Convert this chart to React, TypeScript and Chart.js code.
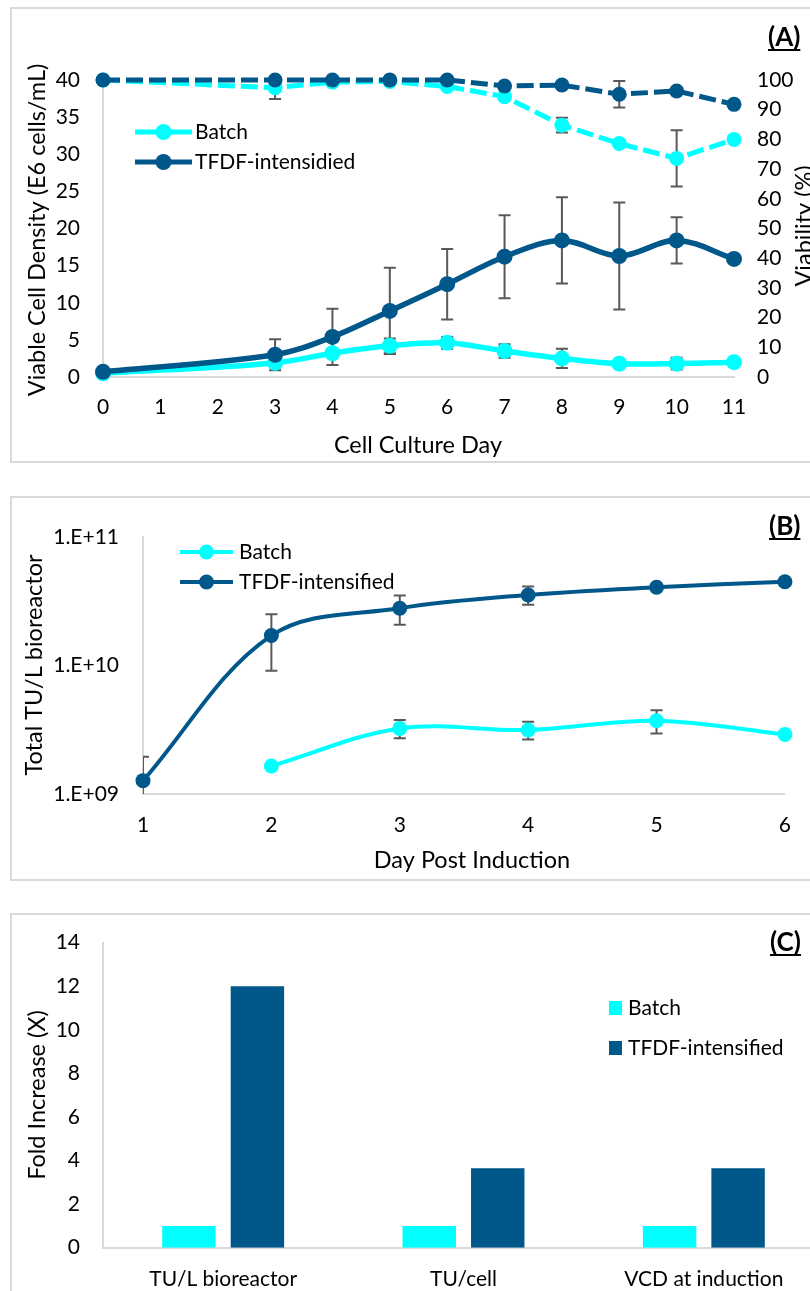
import React, { useEffect, useRef } from 'react';
import { Chart, registerables } from 'chart.js';

Chart.register(...registerables);

const CYAN = '#00FFFF';
const NAVY = '#00578A';
const AXIS = '#D9D9D9';
const ERR = '#595959';
const FONT = 'Lato, "Open Sans", sans-serif';
const TXT = '#000000';

// ---------- Panel A: cell culture ----------
const cultureDays = [0, 3, 4, 5, 6, 7, 8, 9, 10, 11];
const vcdBatch = [0.5, 1.9, 3.2, 4.2, 4.6, 3.5, 2.5, 1.8, 1.8, 2.0];
const vcdBatchErr = [0, 0.6, 0.5, 1.0, 0.8, 0.9, 1.3, 0, 0.8, 0];
const vcdTfdf = [0.7, 3.0, 5.4, 8.9, 12.5, 16.2, 18.4, 16.3, 18.4, 15.9];
const vcdTfdfErr = [0, 2.1, 3.8, 5.8, 4.75, 5.6, 5.8, 7.2, 3.1, 0];
const viaBatch = [100, 97.4, 99.3, 99.5, 97.8, 94.4, 84.8, 78.6, 73.6, 80.0];
const viaBatchErr = [0, 3.8, 0, 0, 0, 0, 2.5, 0, 9.5, 0];
const viaTfdf = [100, 100, 100, 100, 100, 98.0, 98.3, 95.2, 96.3, 91.8];
const viaTfdfErr = [0, 0, 0, 0, 0, 0, 1.2, 4.5, 0, 0];

// ---------- Panel B: titer ----------
const inductionDays = [1, 2, 3, 4, 5, 6];
const tuBatch = [null, 1.65e9, 3.24e9, 3.15e9, 3.72e9, 2.91e9];
const tuBatchErr = [0, 0, 0.53e9, 0.5e9, 0.76e9, 0];
const tuTfdf = [1.27e9, 1.71e10, 2.79e10, 3.54e10, 4.06e10, 4.49e10];
const tuTfdfErr = [0.68e9, 0.8e10, 0.71e10, 0.57e10, 0, 0];
const tuTickValues = [1e9, 1e10, 1e11];
const tuTickLabels = ['1.E+09', '1.E+10', '1.E+11'];

// ---------- Panel C: fold increase ----------
const foldCategories = ['TU/L bioreactor', 'TU/cell', 'VCD at induction'];
const foldBatch = [1, 1, 1];
const foldTfdf = [12, 3.65, 3.65];

const seriesNames = ['Batch', 'TFDF-intensidied', 'TFDF-intensified'];

Chart.defaults.font.family = FONT;
Chart.defaults.color = TXT;

const tickFont = { family: FONT, size: 21 };

function pts(xs: number[], ys: (number | null)[]) {
  return xs.map((x, i) => ({ x, y: ys[i] }));
}

const errorBarPlugin = {
  id: 'errorBars',
  beforeDatasetsDraw(chart: any) {
    const { ctx, chartArea } = chart;
    ctx.save();
    ctx.beginPath();
    ctx.rect(chartArea.left, chartArea.top - 1, chartArea.right - chartArea.left, chartArea.bottom - chartArea.top + 1);
    ctx.clip();
    ctx.strokeStyle = ERR;
    ctx.lineWidth = 2;
    chart.data.datasets.forEach((ds: any, di: number) => {
      const errs = ds.errorBars;
      if (!errs) return;
      const meta = chart.getDatasetMeta(di);
      const yScale = chart.scales[meta.yAxisID];
      meta.data.forEach((pt: any, i: number) => {
        const e = errs[i];
        const raw = ds.data[i];
        const v = raw && typeof raw === 'object' ? raw.y : raw;
        if (!e || v == null) return;
        const x = pt.x;
        const yTop = yScale.getPixelForValue(v + e);
        const lo = v - e;
        const yBot = lo > 0 ? yScale.getPixelForValue(lo) : chartArea.bottom + 40;
        ctx.beginPath();
        ctx.moveTo(x, yTop);
        ctx.lineTo(x, yBot);
        ctx.moveTo(x - 6, yTop);
        ctx.lineTo(x + 6, yTop);
        ctx.moveTo(x - 6, yBot);
        ctx.lineTo(x + 6, yBot);
        ctx.stroke();
      });
    });
    ctx.restore();
  },
};

function vText(ctx: CanvasRenderingContext2D, text: string, x: number, y: number, font: string) {
  ctx.save();
  ctx.translate(x, y);
  ctx.rotate(-Math.PI / 2);
  ctx.font = font;
  ctx.fillStyle = TXT;
  ctx.textAlign = 'center';
  ctx.textBaseline = 'alphabetic';
  ctx.fillText(text, 0, 0);
  ctx.restore();
}

function hText(ctx: CanvasRenderingContext2D, text: string, x: number, y: number, font: string, align: CanvasTextAlign = 'left') {
  ctx.save();
  ctx.font = font;
  ctx.fillStyle = TXT;
  ctx.textAlign = align;
  ctx.textBaseline = 'alphabetic';
  ctx.fillText(text, x, y);
  ctx.restore();
}

function panelLabel(ctx: CanvasRenderingContext2D, text: string, x: number, baseline: number) {
  ctx.save();
  ctx.font = `bold 26px ${FONT}`;
  ctx.fillStyle = TXT;
  ctx.textAlign = 'left';
  ctx.textBaseline = 'alphabetic';
  ctx.fillText(text, x, baseline);
  const w = ctx.measureText(text).width;
  ctx.fillRect(x, baseline + 3, w, 2);
  ctx.restore();
}

function lineLegend(ctx: CanvasRenderingContext2D, x0: number, x1: number, y: number, color: string, width: number, r: number, text: string, textX: number, baseline: number) {
  ctx.save();
  ctx.strokeStyle = color;
  ctx.lineWidth = width;
  ctx.beginPath();
  ctx.moveTo(x0, y);
  ctx.lineTo(x1, y);
  ctx.stroke();
  ctx.fillStyle = color;
  ctx.beginPath();
  ctx.arc((x0 + x1) / 2, y, r, 0, Math.PI * 2);
  ctx.fill();
  ctx.restore();
  hText(ctx, text, textX, baseline, `21px ${FONT}`);
}

const decorA = {
  id: 'decorA',
  afterDraw(chart: any) {
    const ctx = chart.ctx;
    vText(ctx, 'Viable Cell Density (E6 cells/mL)', 45, 230, `23.5px ${FONT}`);
    vText(ctx, 'Viability (%)', 812, 226, `23.5px ${FONT}`);
    hText(ctx, 'Cell Culture Day', 418, 453, `23.5px ${FONT}`, 'center');
    lineLegend(ctx, 135, 192, 132, CYAN, 5, 8, seriesNames[0], 195, 139);
    lineLegend(ctx, 135, 192, 162, NAVY, 5, 8, seriesNames[1], 195, 169);
    panelLabel(ctx, '(A)', 768, 46);
  },
};

const decorB = {
  id: 'decorB',
  afterDraw(chart: any) {
    const ctx = chart.ctx;
    vText(ctx, 'Total TU/L bioreactor', 42, 175, `23.5px ${FONT}`);
    hText(ctx, 'Day Post Induction', 472, 378, `23.5px ${FONT}`, 'center');
    lineLegend(ctx, 180, 233, 62, CYAN, 4, 7.5, seriesNames[0], 239, 69);
    lineLegend(ctx, 180, 233, 92, NAVY, 4, 7.5, seriesNames[2], 239, 99);
    panelLabel(ctx, '(B)', 769, 45);
  },
};

const decorC = {
  id: 'decorC',
  afterDraw(chart: any) {
    const ctx = chart.ctx;
    vText(ctx, 'Fold Increase (X)', 45, 190, `23.5px ${FONT}`);
    ctx.save();
    ctx.fillStyle = CYAN;
    ctx.fillRect(609, 96, 13, 14);
    ctx.fillStyle = NAVY;
    ctx.fillRect(609, 136, 13, 14);
    ctx.restore();
    hText(ctx, seriesNames[0], 628, 110, `21px ${FONT}`);
    hText(ctx, seriesNames[2], 628, 150, `21px ${FONT}`);
    panelLabel(ctx, '(C)', 770, 46);
  },
};

function lineDs(label: string, data: any[], color: string, axis: string, errs: number[], opts: any) {
  return {
    label,
    data,
    yAxisID: axis,
    borderColor: color,
    backgroundColor: color,
    pointBackgroundColor: color,
    pointBorderColor: color,
    pointBorderWidth: 0,
    clip: false,
    errorBars: errs,
    ...opts,
  };
}

function configA(): any {
  const solid = { borderWidth: 5.5, pointRadius: 8, tension: 0.35 };
  const dashed = { borderWidth: 5, pointRadius: 7.5, tension: 0, borderDash: [17, 6], borderCapStyle: 'butt' };
  return {
    type: 'line',
    data: {
      datasets: [
        lineDs('TFDF-intensidied VCD', pts(cultureDays, vcdTfdf), NAVY, 'y', vcdTfdfErr, solid),
        lineDs('Batch VCD', pts(cultureDays, vcdBatch), CYAN, 'y', vcdBatchErr, solid),
        lineDs('TFDF-intensidied viability', pts(cultureDays, viaTfdf), NAVY, 'y1', viaTfdfErr, dashed),
        lineDs('Batch viability', pts(cultureDays, viaBatch), CYAN, 'y1', viaBatchErr, dashed),
      ],
    },
    options: {
      responsive: false,
      animation: false,
      devicePixelRatio: 1,
      layout: { padding: { top: 80, left: 0, right: 0, bottom: 0 } },
      plugins: { legend: { display: false }, tooltip: { enabled: false } },
      scales: {
        x: {
          type: 'linear', min: 0, max: 11,
          ticks: { stepSize: 1, font: tickFont, color: TXT, padding: 18 },
          grid: { display: false, drawTicks: false },
          border: { display: true, color: AXIS, width: 2 },
          afterFit: (s: any) => { s.height = 93; },
        },
        y: {
          position: 'left', min: 0, max: 40,
          ticks: { stepSize: 5, font: tickFont, color: TXT, padding: 23 },
          grid: { display: false, drawTicks: false },
          border: { display: true, color: AXIS, width: 2 },
          afterFit: (s: any) => { s.width = 103; },
        },
        y1: {
          position: 'right', min: 0, max: 100,
          ticks: { stepSize: 10, font: tickFont, color: TXT, padding: 23 },
          grid: { display: false, drawTicks: false },
          border: { display: false },
          afterFit: (s: any) => { s.width = 76; },
        },
      },
    },
    plugins: [errorBarPlugin, decorA],
  };
}

function configB(): any {
  const st = { borderWidth: 4, pointRadius: 7.5, tension: 0.35 };
  return {
    type: 'line',
    data: {
      datasets: [
        lineDs('TFDF-intensified', pts(inductionDays, tuTfdf), NAVY, 'y', tuTfdfErr, st),
        lineDs('Batch', pts(inductionDays, tuBatch), CYAN, 'y', tuBatchErr, st),
      ],
    },
    options: {
      responsive: false,
      animation: false,
      devicePixelRatio: 1,
      layout: { padding: { top: 47, left: 0, right: 9, bottom: 0 } },
      plugins: { legend: { display: false }, tooltip: { enabled: false } },
      scales: {
        x: {
          type: 'linear', min: 1, max: 6,
          ticks: { stepSize: 1, font: tickFont, color: TXT, padding: 19 },
          grid: { display: false, drawTicks: false },
          border: { display: true, color: AXIS, width: 2 },
          afterFit: (s: any) => { s.height = 96; },
        },
        y: {
          type: 'logarithmic', position: 'left', min: 1e9, max: 1e11,
          afterBuildTicks: (s: any) => { s.ticks = tuTickValues.map((v) => ({ value: v })); },
          ticks: {
            font: tickFont, color: TXT, padding: 24,
            callback: (v: number) => tuTickLabels[tuTickValues.indexOf(v)] ?? '',
          },
          grid: { display: false, drawTicks: false },
          border: { display: true, color: AXIS, width: 2 },
          afterFit: (s: any) => { s.width = 143; },
        },
      },
    },
    plugins: [errorBarPlugin, decorB],
  };
}

function configC(): any {
  return {
    type: 'bar',
    data: {
      labels: foldCategories,
      datasets: [
        { label: 'Batch', data: foldBatch, backgroundColor: CYAN, borderWidth: 0, categoryPercentage: 0.57, barPercentage: 0.78 },
        { label: 'TFDF-intensified', data: foldTfdf, backgroundColor: NAVY, borderWidth: 0, categoryPercentage: 0.57, barPercentage: 0.78 },
      ],
    },
    options: {
      responsive: false,
      animation: false,
      devicePixelRatio: 1,
      layout: { padding: { top: 37.7, left: 0, right: 16, bottom: 0 } },
      plugins: { legend: { display: false }, tooltip: { enabled: false } },
      scales: {
        x: {
          ticks: { font: tickFont, color: TXT, padding: 19, maxRotation: 0, autoSkip: false },
          grid: { display: false, drawTicks: false },
          border: { display: true, color: AXIS, width: 2 },
          afterFit: (s: any) => { s.height = 43.3; },
        },
        y: {
          min: 0, max: 14,
          ticks: { stepSize: 2, font: tickFont, color: TXT, padding: 23 },
          grid: { display: false, drawTicks: false },
          border: { display: true, color: AXIS, width: 2 },
          afterFit: (s: any) => { s.width = 103; },
        },
      },
    },
    plugins: [decorC],
  };
}

function ChartCanvas({ make, width, height, top }: { make: () => any; width: number; height: number; top: number }) {
  const ref = useRef<HTMLCanvasElement>(null);
  useEffect(() => {
    const chart = new Chart(ref.current as HTMLCanvasElement, make());
    return () => chart.destroy();
  }, []);
  return (
    <canvas
      ref={ref}
      width={width}
      height={height}
      style={{ position: 'absolute', left: 0, top, width, height }}
    />
  );
}

function Box({ top, height }: { top: number; height: number }) {
  return (
    <div
      style={{
        position: 'absolute', left: 10, top, width: 840, height,
        border: `2px solid ${AXIS}`, boxSizing: 'border-box', background: '#fff',
      }}
    />
  );
}

export default function App() {
  return (
    <div style={{ position: 'fixed', left: 0, top: 0, width: 810, height: 1291, overflow: 'hidden', background: '#fff' }}>
      <Box top={7} height={456} />
      <Box top={496} height={385} />
      <Box top={913} height={420} />
      <ChartCanvas make={configA} width={810} height={470} top={0} />
      <ChartCanvas make={configB} width={810} height={400} top={490} />
      <ChartCanvas make={configC} width={840} height={386} top={905} />
    </div>
  );
}
